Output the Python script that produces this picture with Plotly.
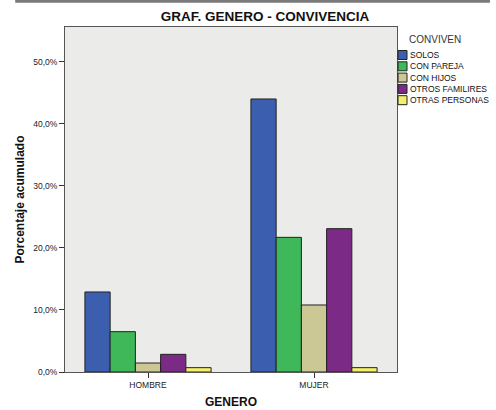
import plotly.graph_objects as go

# data
generos = ["HOMBRE", "MUJER"]
convivencia = ["SOLOS", "CON PAREJA", "CON HIJOS", "OTROS FAMILIRES", "OTRAS PERSONAS"]
porcentajes = {
    "SOLOS": [12.9, 44.0],
    "CON PAREJA": [6.5, 21.7],
    "CON HIJOS": [1.45, 10.8],
    "OTROS FAMILIRES": [2.85, 23.1],
    "OTRAS PERSONAS": [0.7, 0.7],
}
colores = ["#3b5fae", "#3fb85a", "#cbc895", "#7b2b86", "#f4f06c"]
y_ticks = [0, 10, 20, 30, 40, 50]
y_labels = ["0,0%", "10,0%", "20,0%", "30,0%", "40,0%", "50,0%"]

fig = go.Figure()
for name, color in zip(convivencia, colores):
    fig.add_trace(go.Bar(
        x=generos,
        y=porcentajes[name],
        name=name,
        showlegend=False,
        marker=dict(color=color, line=dict(color="#222222", width=1)),
    ))

# legend drawn by hand: plotly's own legend rows are too tall for this compact key
# plot area is 332 x 345 px, the key sits just right of it
shapes = [dict(type="line", xref="paper", yref="paper", x0=-0.15, x1=1.28,
               y0=1.075, y1=1.075, line=dict(color="#7a7a7a", width=3))]
annotations = [dict(text="CONVIVEN", xref="paper", yref="paper",
                    x=(435 - 65) / 332, y=(372 - 40) / 345, showarrow=False,
                    xanchor="center", yanchor="middle",
                    font=dict(size=10, color="#333333"))]
for i, (name, color) in enumerate(zip(convivencia, colores)):
    yc = 55 + 11.3 * i
    shapes.append(dict(type="rect", xref="paper", yref="paper",
                       x0=(398 - 65) / 332, x1=(407 - 65) / 332,
                       y0=(372 - yc + 4.5) / 345, y1=(372 - yc - 4.5) / 345,
                       fillcolor=color, line=dict(color="#222222", width=1)))
    annotations.append(dict(text=name, xref="paper", yref="paper",
                            x=(408 - 65) / 332, y=(372 - yc) / 345, showarrow=False,
                            xanchor="left", yanchor="middle",
                            font=dict(size=8.5, color="#111111")))

fig.update_layout(
    barmode="group",
    bargap=0.24,
    bargroupgap=0,
    width=496,
    height=410,
    margin=dict(l=65, r=99, t=27, b=38),
    paper_bgcolor="white",
    plot_bgcolor="#ebebea",
    font=dict(family="Liberation Sans, Arial", color="#222222", size=9),
    title=dict(text="<b>GRAF. GENERO - CONVIVENCIA</b>", x=265 / 496, xanchor="center",
               y=1 - 16 / 410, yanchor="middle", font=dict(size=13.5, color="#111111")),
    shapes=shapes,
    annotations=annotations,
)
fig.update_xaxes(
    range=[-0.5, 1.5], showline=True, linecolor="#555555", linewidth=1, mirror=True,
    ticks="outside", ticklen=5, tickcolor="#333333", automargin=False,
    title=dict(text="<b>GENERO</b>", font=dict(size=12, color="#111111"), standoff=8),
    tickfont=dict(size=8.5),
)
fig.update_yaxes(
    range=[0, 55.6], tickvals=y_ticks, ticktext=y_labels,
    showgrid=False, zeroline=False, showline=True, linecolor="#555555", linewidth=1,
    mirror=True, ticks="outside", ticklen=5, tickcolor="#333333", automargin=False,
    title=dict(text="<b>Porcentaje acumulado</b>", font=dict(size=12, color="#111111"),
               standoff=5),
    tickfont=dict(size=8.5),
)

# the page's default body margin would push the fixed-size figure out of the window
fig.write_html("out.html", config={"displayModeBar": False},
               post_script="document.body.style.margin = '0';")
